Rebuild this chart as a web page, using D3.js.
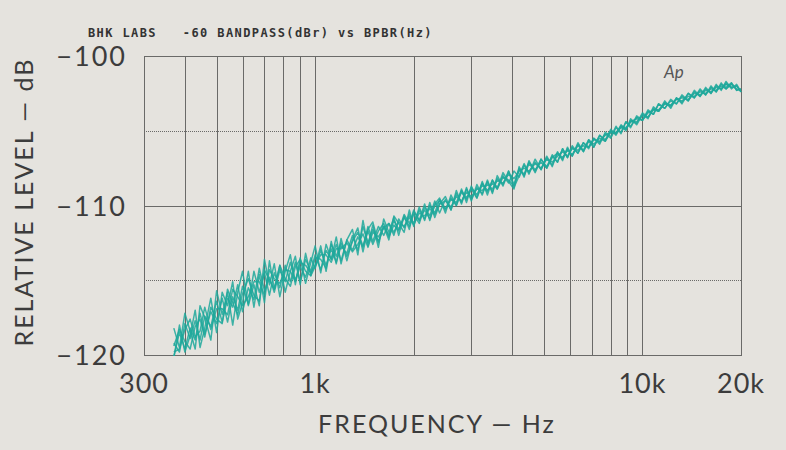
<!DOCTYPE html>
<html>
<head>
<meta charset="utf-8">
<script src="https://cdn.jsdelivr.net/npm/d3@7"></script>
<style>
  html, body { margin: 0; padding: 0; background: #e5e3de; }
  svg { display: block; }
</style>
</head>
<body>
<svg id="chart" width="786" height="450"></svg>
<script>
// ---- Data ----
const freqs = [370, 385, 400, 415, 430, 445, 460, 480, 500, 520, 540, 560, 580, 600, 625, 650, 675, 700, 725, 750,
  780, 810, 840, 870, 900, 935, 970, 1000, 1040, 1080, 1120, 1160, 1200, 1250, 1300, 1350, 1400, 1450, 1500, 1560,
  1620, 1680, 1740, 1800, 1870, 1940, 2000, 2080, 2160, 2240, 2320, 2400, 2500, 2600, 2700, 2800, 2900, 3000, 3120, 3240,
  3360, 3480, 3600, 3750, 3900, 4050, 4200, 4350, 4500, 4700, 4900, 5100, 5300, 5500, 5700, 5900, 6100, 6350, 6600, 6850,
  7100, 7400, 7700, 8000, 8300, 8600, 8900, 9200, 9600, 10000, 10400, 10800, 11200, 11700, 12200, 12700, 13200, 13800, 14400, 15000,
  15600, 16200, 16800, 17400, 18000, 18700, 19400, 20000];

const traceA = [-119.2, -119.8, -117.9, -118.9, -117.7, -119.0, -117.4, -118.1, -116.4, -117.8, -116.2, -116.8, -115.3, -117.1, -115.5, -116.3, -114.2, -115.7, -114.8, -115.8,
  -114.3, -115.1, -113.8, -115.0, -114.1, -114.8, -113.5, -114.2, -113.0, -114.0, -112.9, -113.8, -112.7, -113.2, -112.0, -113.0, -111.4, -112.5, -111.6, -112.4,
  -111.4, -112.0, -111.0, -111.6, -110.8, -111.4, -110.6, -111.2, -110.1, -110.7, -109.7, -110.5, -109.6, -110.3, -109.2, -109.8, -108.9, -109.6, -108.8, -109.2,
  -108.4, -109.1, -108.2, -108.6, -107.7, -108.6, -107.5, -108.0, -107.2, -107.7, -106.9, -107.4, -106.7, -107.1, -106.2, -106.8, -106.1, -106.5, -105.8, -106.1,
  -105.5, -105.8, -105.2, -105.5, -104.8, -105.1, -104.4, -104.7, -104.1, -104.3, -103.7, -103.9, -103.2, -103.5, -103.0, -103.2, -102.7, -103.0, -102.4, -102.7,
  -102.2, -102.5, -102.0, -102.2, -101.8, -102.1, -102.0, -102.4];

const traceB = [-120.1, -118.5, -119.6, -118.2, -119.0, -117.2, -118.6, -117.1, -117.9, -116.2, -117.8, -116.1, -117.0, -115.4, -116.6, -114.4, -115.8, -114.5, -116.0, -114.5,
  -115.5, -114.0, -115.1, -113.8, -115.1, -113.6, -114.4, -113.3, -114.3, -113.0, -113.6, -112.6, -113.7, -112.3, -113.0, -112.1, -112.8, -111.4, -112.4, -111.4,
  -112.0, -111.2, -112.0, -110.9, -111.5, -110.6, -111.2, -110.3, -110.9, -110.0, -110.5, -109.6, -110.2, -109.5, -110.0, -109.1, -109.6, -108.9, -109.5, -108.6,
  -109.1, -108.3, -108.8, -108.0, -108.5, -107.7, -108.1, -107.3, -107.8, -107.1, -107.6, -106.8, -107.3, -106.5, -106.9, -106.2, -106.7, -105.9, -106.4, -105.7,
  -106.1, -105.3, -105.6, -105.0, -105.2, -104.6, -104.9, -104.3, -104.5, -103.8, -104.1, -103.5, -103.7, -103.1, -103.4, -102.8, -103.1, -102.5, -102.8, -102.3,
  -102.6, -102.1, -102.4, -101.9, -102.1, -101.8, -102.3, -102.2];

const traceC = [-119.4, -118.3, -119.1, -119.6, -118.1, -117.6, -118.8, -116.8, -117.6, -117.9, -115.6, -116.5, -117.3, -115.9, -114.9, -116.0, -116.4, -114.3, -115.0, -115.6,
  -114.0, -114.9, -115.4, -114.1, -113.6, -114.4, -114.7, -113.5, -113.6, -114.2, -112.6, -113.4, -112.5, -113.4, -112.4, -111.8, -112.7, -111.7, -112.6, -111.7,
  -111.2, -112.1, -111.3, -111.7, -110.6, -111.2, -110.4, -111.0, -110.3, -110.9, -110.0, -109.7, -110.3, -109.6, -109.8, -109.0, -109.5, -108.8, -109.3, -108.5,
  -109.0, -108.5, -108.9, -108.1, -108.3, -108.7, -107.6, -107.9, -107.1, -107.6, -107.1, -107.5, -106.8, -106.5, -106.8, -106.3, -106.6, -106.0, -106.3, -105.6,
  -105.9, -105.5, -105.7, -105.1, -105.1, -104.8, -104.9, -104.4, -104.4, -104.0, -104.1, -103.6, -103.6, -103.2, -103.3, -102.9, -103.0, -102.7, -102.7, -102.4,
  -102.5, -102.2, -102.3, -102.0, -102.2, -101.9, -102.2, -102.3];

const traceD = [-119.8, -119.6, -118.3, -117.6, -118.8, -118.4, -116.8, -118.3, -116.9, -116.9, -117.3, -115.6, -116.1, -116.7, -116.1, -115.1, -115.1, -116.0, -114.3, -114.9,
  -115.2, -114.3, -114.4, -115.1, -113.8, -114.0, -114.5, -114.0, -113.3, -113.3, -113.8, -112.9, -112.9, -112.5, -113.1, -112.6, -111.9, -112.8, -111.8, -112.1,
  -111.5, -111.2, -111.8, -111.1, -111.4, -110.8, -111.3, -110.5, -110.7, -110.2, -110.6, -109.9, -109.7, -110.1, -109.4, -109.7, -109.1, -109.4, -108.9, -109.0,
  -108.6, -108.9, -108.3, -108.5, -107.9, -108.2, -107.7, -107.5, -107.7, -107.2, -107.5, -106.9, -107.1, -106.7, -106.4, -106.7, -106.2, -106.3, -106.0, -106.1,
  -105.6, -105.7, -105.3, -105.1, -105.2, -104.7, -104.8, -104.4, -104.2, -104.3, -103.8, -103.6, -103.7, -103.2, -103.3, -102.9, -102.8, -102.9, -102.5, -102.6,
  -102.3, -102.4, -102.1, -102.2, -101.9, -102.1, -102.0, -102.4];

const traceE = [-118.2, -119.5, -117.2, -118.4, -119.6, -116.7, -117.5, -119.0, -115.7, -117.3, -115.8, -118.0, -115.8, -114.4, -116.7, -115.3, -116.7, -113.6, -115.3, -113.9,
  -116.1, -114.4, -113.3, -115.3, -113.5, -115.2, -113.8, -112.7, -114.5, -112.6, -113.6, -112.1, -113.9, -112.3, -111.6, -113.3, -111.0, -112.7, -111.3, -112.8,
  -110.9, -111.8, -110.8, -112.0, -110.7, -111.6, -110.3, -111.0, -109.9, -111.0, -109.9, -109.5, -110.5, -109.3, -110.0, -108.9, -109.8, -108.7, -109.5, -108.4,
  -109.3, -108.3, -108.9, -107.8, -108.4, -108.9, -107.4, -108.1, -107.0, -107.8, -106.9, -107.5, -106.6, -107.1, -106.2, -106.8, -106.0, -106.5, -105.8, -106.2,
  -105.5, -105.9, -105.1, -105.4, -104.7, -105.2, -104.4, -104.8, -104.0, -104.3, -103.6, -103.9, -103.2, -103.5, -102.9, -103.2, -102.6, -103.0, -102.3, -102.7,
  -102.1, -102.5, -101.9, -102.3, -101.7, -102.2, -101.9, -102.4];

const traceF = [-120.2, -118.0, -119.8, -118.7, -117.0, -119.5, -118.2, -116.2, -118.5, -115.8, -116.7, -115.1, -117.6, -116.5, -114.4, -116.8, -114.6, -116.5, -113.7, -115.6,
  -114.0, -115.8, -114.4, -113.4, -115.3, -113.2, -114.7, -114.1, -112.7, -114.4, -112.4, -113.9, -112.2, -113.7, -112.3, -111.5, -113.1, -111.6, -111.1, -112.5,
  -111.4, -112.3, -110.7, -111.2, -111.8, -110.3, -111.4, -110.1, -111.0, -109.8, -110.8, -109.9, -109.4, -110.3, -109.0, -109.9, -108.8, -109.7, -108.6, -109.3,
  -108.3, -109.2, -108.0, -108.7, -107.7, -108.8, -108.0, -107.2, -107.9, -106.9, -107.6, -106.7, -107.4, -106.4, -107.0, -106.1, -106.7, -105.8, -106.4, -105.6,
  -106.1, -105.3, -105.7, -104.9, -105.3, -104.7, -105.0, -104.2, -104.6, -103.9, -104.2, -103.4, -103.7, -103.0, -103.5, -102.8, -103.2, -102.5, -102.8, -102.2,
  -102.6, -102.0, -102.4, -101.8, -102.2, -101.8, -102.3, -102.2];

const traces = [traceA, traceB, traceC, traceD, traceE, traceF];

const xGrid = [400, 500, 600, 700, 800, 900, 1000, 2000, 3000, 4000, 5000, 6000, 7000, 8000, 9000, 10000];
const xTickValues = [300, 1000, 10000, 20000];
const xTickLabels = ["300", "1k", "10k", "20k"];
const yTickValues = [-100, -110, -120];
const yTickLabels = ["\u2212100", "\u2212110", "\u2212120"];
const yDotted = [-105, -115];
const ySolid = [-110];

const titleText = "BHK LABS   -60 BANDPASS(dBr) vs BPBR(Hz)";
const xTitle = "FREQUENCY \u2014 Hz";
const yTitle = "RELATIVE LEVEL \u2014 dB";
const traceTag = "Ap";

// ---- Drawing ----
const svg = d3.select("#chart");
const L = 144, R = 741, T = 56, B = 355;
const x = d3.scaleLog().domain([300, 20000]).range([L, R]);
const y = d3.scaleLinear().domain([-120, -100]).range([B, T]);

const gridColor = "#6a6a68";
const textColor = "#3c3c3c";
const font = "Lato, 'Open Sans', sans-serif";

svg.append("rect").attr("width", 786).attr("height", 450).attr("fill", "#e5e3de");

// vertical grid
svg.append("g").selectAll("line").data(xGrid).join("line")
  .attr("x1", d => Math.round(x(d)) + 0.5).attr("x2", d => Math.round(x(d)) + 0.5)
  .attr("y1", T).attr("y2", B)
  .attr("stroke", gridColor).attr("stroke-width", 1);

// horizontal grid
svg.append("g").selectAll("line").data(yDotted).join("line")
  .attr("x1", L).attr("x2", R)
  .attr("y1", d => Math.round(y(d)) + 0.5).attr("y2", d => Math.round(y(d)) + 0.5)
  .attr("stroke", gridColor).attr("stroke-width", 1).attr("stroke-dasharray", "1,1");
svg.append("g").selectAll("line").data(ySolid).join("line")
  .attr("x1", L).attr("x2", R)
  .attr("y1", d => Math.round(y(d)) + 0.5).attr("y2", d => Math.round(y(d)) + 0.5)
  .attr("stroke", gridColor).attr("stroke-width", 1);

// frame
svg.append("rect").attr("x", L + 0.5).attr("y", T + 0.5).attr("width", R - L).attr("height", B - T)
  .attr("fill", "none").attr("stroke", gridColor).attr("stroke-width", 1);

// clip
svg.append("clipPath").attr("id", "plotclip").append("rect")
  .attr("x", L).attr("y", T).attr("width", R - L + 1).attr("height", B - T + 1);

const line = d3.line().x((d, i) => x(freqs[i])).y(d => y(d));
svg.append("g").attr("clip-path", "url(#plotclip)").selectAll("path").data(traces).join("path")
  .attr("d", d => line(d))
  .attr("fill", "none").attr("stroke", "#1ea89b").attr("stroke-width", 1.5)
  .attr("stroke-linejoin", "round").attr("opacity", 0.85);

// title
svg.append("text").attr("x", 88).attr("y", 37).text(titleText)
  .attr("font-family", "'DejaVu Sans Mono', 'Liberation Mono', monospace").attr("font-weight", "bold")
  .attr("font-size", 12).attr("letter-spacing", 1.4).attr("fill", "#333")
  .style("white-space", "pre");

// x tick labels
svg.append("g").selectAll("text").data(xTickValues).join("text")
  .attr("x", d => x(d)).attr("y", 393).attr("text-anchor", "middle")
  .text((d, i) => xTickLabels[i])
  .attr("font-family", font).attr("font-size", 27).attr("letter-spacing", 1).attr("fill", textColor);

// y tick labels
svg.append("g").selectAll("text").data(yTickValues).join("text")
  .attr("x", 127).attr("y", d => y(d) + 10).attr("text-anchor", "end")
  .text((d, i) => yTickLabels[i])
  .attr("font-family", font).attr("font-size", 27).attr("letter-spacing", 2).attr("fill", textColor);

// axis titles
svg.append("text").attr("x", 437).attr("y", 433).attr("text-anchor", "middle").text(xTitle)
  .attr("font-family", font).attr("font-size", 25).attr("letter-spacing", 2).attr("fill", textColor);
svg.append("text").attr("transform", "translate(33,202) rotate(-90)").attr("text-anchor", "middle").text(yTitle)
  .attr("font-family", font).attr("font-size", 25).attr("letter-spacing", 2).attr("fill", textColor);

// trace tag
svg.append("text").attr("x", 664).attr("y", 78).text(traceTag)
  .attr("font-family", font).attr("font-size", 17).attr("font-style", "italic").attr("fill", "#555");
</script>
</body>
</html>
